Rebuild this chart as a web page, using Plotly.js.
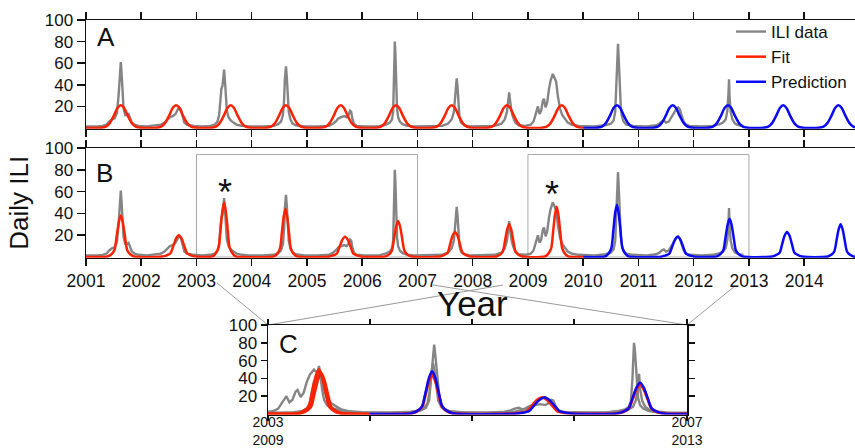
<!DOCTYPE html>
<html><head><meta charset="utf-8">
<script src="https://cdn.plot.ly/plotly-3.0.1.min.js"></script>
<style>html,body{margin:0;padding:0;background:#fff}#chart{width:855px;height:448px}</style>
</head><body><div id="chart"></div>
<script>
// ---------- DATA ----------
// Observed daily ILI (years, value)
const iliT = [2001.00,2001.10,2001.20,2001.30,2001.37,2001.42,2001.47,2001.52,2001.56,2001.59,2001.61,2001.63,2001.645,2001.66,2001.68,2001.71,2001.74,2001.77,2001.80,2001.83,2001.88,2001.95,
2002.10,2002.25,2002.35,2002.42,2002.47,2002.52,2002.57,2002.62,2002.66,2002.69,2002.72,2002.75,2002.78,2002.83,2002.95,
2003.10,2003.25,2003.33,2003.38,2003.41,2003.43,2003.45,2003.47,2003.49,2003.50,2003.515,2003.53,2003.55,2003.58,2003.62,2003.67,2003.73,2003.82,2003.95,
2004.20,2004.40,2004.48,2004.53,2004.565,2004.585,2004.60,2004.62,2004.635,2004.65,2004.67,2004.70,2004.74,2004.80,2004.95,
2005.20,2005.40,2005.47,2005.52,2005.57,2005.62,2005.67,2005.72,2005.75,2005.78,2005.80,2005.82,2005.85,2005.90,
2006.05,2006.30,2006.42,2006.50,2006.54,2006.56,2006.575,2006.59,2006.60,2006.615,2006.63,2006.65,2006.68,2006.73,2006.82,2006.95,
2007.20,2007.45,2007.55,2007.62,2007.66,2007.69,2007.71,2007.725,2007.74,2007.76,2007.79,2007.85,2007.95,
2008.20,2008.40,2008.52,2008.58,2008.62,2008.645,2008.66,2008.675,2008.70,2008.73,2008.77,2008.83,2008.95,
2009.05,2009.10,2009.13,2009.16,2009.18,2009.21,2009.24,2009.27,2009.29,2009.32,2009.35,2009.38,2009.41,2009.45,2009.48,2009.51,2009.54,2009.58,2009.62,2009.67,2009.72,2009.80,2009.92,
2010.20,2010.40,2010.50,2010.55,2010.58,2010.60,2010.62,2010.63,2010.645,2010.66,2010.68,2010.70,2010.73,2010.78,2010.90,
2011.15,2011.32,2011.38,2011.42,2011.46,2011.50,2011.55,2011.60,2011.65,2011.69,2011.72,2011.75,2011.78,2011.81,2011.85,2011.92,
2012.15,2012.35,2012.47,2012.53,2012.58,2012.61,2012.63,2012.64,2012.65,2012.67,2012.70,2012.75,2012.82,2012.90];
const iliV = [1.5,1.2,1.5,2,3,6,8,9,14,30,48,61,50,32,18,12,12,13,9,5,3,2,
1.5,2,3,5,8,10,11,13,17,19,17,10,5,3,2,
1.5,2,3,6,12,25,36,39,50,54,44,28,16,10,7,5,3,2,1.5,
1.5,2,3.5,6,12,25,45,57,47,30,15,8,4,2.5,1.5,
1.5,2,4,6,9,10,11,10,12,16,15,9,4,2,
1.5,1.5,3,5,8,15,40,80,70,40,18,10,6,3.5,2,1.5,
1.5,2,4,8,15,35,46,38,20,10,5,2.5,1.5,
1.5,2,4,8,15,27,33,26,16,10,5,2.5,2,
3,6,11,17,20,13,16,25,27,19,24,36,44,50,47,43,30,18,12,8,5,3,2,
1.5,2.5,4,7,15,40,70,78,62,40,20,11,6,3,2,
1.5,2.5,4,6,7,5,6,10,15,18,19,17,12,7,3.5,2,
1.5,2,3.5,5,8,16,32,45,28,15,8,4,2.5,2];

// Model A: fit (2001-2010) and prediction (2010-2015)
const fitAT = [2001.00,
2001.15,2001.27,2001.36,2001.43,2001.50,2001.57,2001.63,2001.69,2001.76,2001.83,2001.90,2001.99,2002.11,
2002.15,2002.27,2002.36,2002.43,2002.50,2002.57,2002.63,2002.69,2002.76,2002.83,2002.90,2002.99,2003.11,
2003.14,2003.26,2003.35,2003.42,2003.49,2003.56,2003.62,2003.68,2003.75,2003.82,2003.89,2003.98,2004.10,
2004.14,2004.26,2004.35,2004.42,2004.49,2004.56,2004.62,2004.68,2004.75,2004.82,2004.89,2004.98,2005.10,
2005.13,2005.25,2005.34,2005.41,2005.48,2005.55,2005.61,2005.67,2005.74,2005.81,2005.88,2005.97,2006.09,
2006.13,2006.25,2006.34,2006.41,2006.48,2006.55,2006.61,2006.67,2006.74,2006.81,2006.88,2006.97,2007.09,
2007.14,2007.26,2007.35,2007.42,2007.49,2007.56,2007.62,2007.68,2007.75,2007.82,2007.89,2007.98,2008.10,
2008.14,2008.26,2008.35,2008.42,2008.49,2008.56,2008.62,2008.68,2008.75,2008.82,2008.89,2008.98,2009.10,
2009.13,2009.25,2009.34,2009.41,2009.48,2009.55,2009.61,2009.67,2009.74,2009.81,2009.88,2009.97,2010.00];
const fitAV = [0,
0,0.2,1.3,4.5,11,18.5,21,18.5,11,4.5,1.3,0.2,0,
0,0.2,1.3,4.5,11,18.5,21,18.5,11,4.5,1.3,0.2,0,
0,0.2,1.3,4.5,11,18.5,21,18.5,11,4.5,1.3,0.2,0,
0,0.2,1.3,4.5,11,18.5,21,18.5,11,4.5,1.3,0.2,0,
0,0.2,1.3,4.5,11,18.5,21,18.5,11,4.5,1.3,0.2,0,
0,0.2,1.3,4.5,11,18.5,21,18.5,11,4.5,1.3,0.2,0,
0,0.2,1.3,4.5,11,18.5,21,18.5,11,4.5,1.3,0.2,0,
0,0.2,1.3,4.5,11,18.5,21,18.5,11,4.5,1.3,0.2,0,
0,0.2,1.3,4.5,11,18.5,21,18.5,11,4.5,1.3,0.2,0];
const predAT = [2010.00,
2010.13,2010.25,2010.34,2010.41,2010.48,2010.55,2010.61,2010.67,2010.74,2010.81,2010.88,2010.97,2011.09,
2011.14,2011.26,2011.35,2011.42,2011.49,2011.56,2011.62,2011.68,2011.75,2011.82,2011.89,2011.98,2012.10,
2012.14,2012.26,2012.35,2012.42,2012.49,2012.56,2012.62,2012.68,2012.75,2012.82,2012.89,2012.98,2013.10,
2013.14,2013.26,2013.35,2013.42,2013.49,2013.56,2013.62,2013.68,2013.75,2013.82,2013.89,2013.98,2014.10,
2014.14,2014.26,2014.35,2014.42,2014.49,2014.56,2014.62,2014.68,2014.75,2014.82,2014.89,2014.98,2015.10];
const predAV = [0,
0,0.2,1.3,4.5,11,18.5,21,18.5,11,4.5,1.3,0.2,0,
0,0.2,1.3,4.5,11,18.5,21,18.5,11,4.5,1.3,0.2,0,
0,0.2,1.3,4.5,11,18.5,21,18.5,11,4.5,1.3,0.2,0,
0,0.2,1.3,4.5,11,18.5,21,18.5,11,4.5,1.3,0.2,0,
0,0.2,1.3,4.5,11,18.5,21,18.5,11,4.5,1.3,0.2,0];

// Model B: fit (2001-2010) and prediction (2010-2015)
const fitBT = [2001.00,
2001.29,2001.40,2001.46,2001.515,2001.555,2001.595,2001.63,2001.665,2001.705,2001.745,2001.80,2001.86,2001.97,
2002.26,2002.38,2002.45,2002.53,2002.58,2002.63,2002.68,2002.73,2002.78,2002.83,2002.91,2002.98,2003.10,
2003.20,2003.30,2003.35,2003.40,2003.435,2003.47,2003.50,2003.53,2003.565,2003.60,2003.65,2003.70,2003.80,
2004.31,2004.41,2004.46,2004.51,2004.545,2004.58,2004.61,2004.64,2004.675,2004.71,2004.76,2004.81,2004.91,
2005.27,2005.39,2005.46,2005.54,2005.59,2005.64,2005.69,2005.74,2005.79,2005.84,2005.92,2005.99,2006.11,
2006.31,2006.42,2006.48,2006.535,2006.575,2006.615,2006.65,2006.685,2006.725,2006.765,2006.82,2006.88,2006.99,
2007.30,2007.41,2007.47,2007.545,2007.59,2007.635,2007.68,2007.725,2007.77,2007.815,2007.89,2007.95,2008.06,
2008.32,2008.43,2008.49,2008.545,2008.585,2008.625,2008.66,2008.695,2008.735,2008.775,2008.83,2008.89,2009.00,
2009.22,2009.32,2009.37,2009.42,2009.455,2009.49,2009.52,2009.55,2009.585,2009.62,2009.67,2009.72,2009.82,2010.00];
const fitBV = [0,
0,0.7,2.5,6.5,19,32,38,32,19,6.5,2.5,0.7,0,
0,0.4,1.3,3.4,10,17,20,17,10,3.4,1.3,0.4,0,
0,0.9,3.4,8.5,25,42.5,50,42.5,25,8.5,3.4,0.9,0,
0,0.8,2.9,7.5,22,37.4,44,37.4,22,7.5,2.9,0.8,0,
0,0.3,1.2,3.1,9.3,15.7,18.5,15.7,9.3,3.1,1.2,0.3,0,
0,0.6,2.2,5.6,16.5,28,33,28,16.5,5.6,2.2,0.6,0,
0,0.4,1.5,3.9,11.5,19.5,23,19.5,11.5,3.9,1.5,0.4,0,
0,0.5,2,5.1,15,25.5,30,25.5,15,5.1,2,0.5,0,
0,0.8,3.1,7.8,23,39,46,39,23,7.8,3.1,0.8,0,0];
const predBT = [2010.00,
2010.31,2010.41,2010.46,2010.51,2010.545,2010.58,2010.61,2010.64,2010.675,2010.71,2010.76,2010.81,2010.91,
2011.29,2011.41,2011.48,2011.56,2011.61,2011.66,2011.71,2011.76,2011.81,2011.86,2011.94,2012.01,2012.13,
2012.31,2012.42,2012.48,2012.535,2012.575,2012.615,2012.65,2012.685,2012.725,2012.765,2012.82,2012.88,2012.99,
2013.31,2013.42,2013.48,2013.555,2013.60,2013.645,2013.69,2013.735,2013.78,2013.825,2013.90,2013.96,2014.07,
2014.32,2014.43,2014.49,2014.545,2014.585,2014.625,2014.66,2014.695,2014.735,2014.775,2014.83,2014.89,2015.00];
const predBV = [0,
0,0.9,3.2,8.2,24,41,48,41,24,8.2,3.2,0.9,0,
0,0.3,1.2,3.1,9.3,15.7,18.5,15.7,9.3,3.1,1.2,0.3,0,
0,0.6,2.4,6,17.5,29.8,35,29.8,17.5,6,2.4,0.6,0,
0,0.4,1.5,3.9,11.5,19.5,23,19.5,11.5,3.9,1.5,0.4,0,
0,0.5,2,5.1,15,25.5,30,25.5,15,5.1,2,0.5,0];

// Zoom windows shown in panel C
const windowStart = [2003, 2009];
const windowLen = 4;
const yTicks = [20, 40, 60, 80, 100];
const cTickText = ['2003<br>2009', '', '', '', '2007<br>2013'];
const panelLabels = ['A', 'B', 'C'];

// ---------- STYLE ----------
const GRAY = '#858585', RED = '#ff2200', BLUE = '#0a0af5';
const FONT = 'Liberation Sans, Arial, Helvetica, sans-serif';
const W = 855, H = 448;
const px = v => v / W, py = v => 1 - v / H;

function windowed(t, v, start) {
  const x = [], y = [];
  for (let i = 0; i < t.length; i++) {
    if (t[i] >= start - 0.3 && t[i] <= start + windowLen + 0.4) { x.push(t[i] - start); y.push(v[i]); }
  }
  return {x, y};
}

const traces = [];
const grayLine = {color: GRAY, width: 2.4};
const sp = {shape: 'spline', smoothing: 0.8};
// Panel A
traces.push({x: iliT, y: iliV, xaxis: 'x', yaxis: 'y', mode: 'lines', name: 'ILI data', line: grayLine, legendrank: 1});
traces.push({x: fitAT, y: fitAV, xaxis: 'x', yaxis: 'y', mode: 'lines', name: 'Fit', line: Object.assign({color: RED, width: 2.5}, sp), legendrank: 2});
traces.push({x: predAT, y: predAV, xaxis: 'x', yaxis: 'y', mode: 'lines', name: 'Prediction', line: Object.assign({color: BLUE, width: 2.5}, sp), legendrank: 3});
// Panel B
traces.push({x: iliT, y: iliV, xaxis: 'x2', yaxis: 'y2', mode: 'lines', showlegend: false, line: grayLine});
traces.push({x: fitBT, y: fitBV, xaxis: 'x2', yaxis: 'y2', mode: 'lines', showlegend: false, line: Object.assign({color: RED, width: 2.5}, sp)});
traces.push({x: predBT, y: predBV, xaxis: 'x2', yaxis: 'y2', mode: 'lines', showlegend: false, line: Object.assign({color: BLUE, width: 2.5}, sp)});
// Panel C: both windows overlaid
windowStart.forEach(s => {
  const g = windowed(iliT, iliV, s);
  traces.push({x: g.x, y: g.y, xaxis: 'x3', yaxis: 'y3', mode: 'lines', showlegend: false, line: grayLine});
});
{
  const r1 = windowed(fitBT, fitBV, windowStart[0]);
  traces.push({x: r1.x, y: r1.y, xaxis: 'x3', yaxis: 'y3', mode: 'lines', showlegend: false, line: Object.assign({color: RED, width: 3}, sp)});
  const r2 = windowed(fitBT, fitBV, windowStart[1]);
  traces.push({x: r2.x, y: r2.y, xaxis: 'x3', yaxis: 'y3', mode: 'lines', showlegend: false, line: Object.assign({color: RED, width: 3}, sp)});
  const b2 = windowed(predBT, predBV, windowStart[1]);
  traces.push({x: b2.x, y: b2.y, xaxis: 'x3', yaxis: 'y3', mode: 'lines', showlegend: false, line: Object.assign({color: BLUE, width: 2.5}, sp)});
}

const axLine = {showline: true, linecolor: '#111', linewidth: 1.5, ticks: 'outside', tickcolor: '#111', tickwidth: 1.5, showgrid: false, zeroline: false, layer: 'below traces'};
const tf = {family: FONT, size: 17, color: '#111'};

const layout = {
  width: W, height: H, margin: {l: 0, r: 0, t: 0, b: 0},
  paper_bgcolor: '#fff', plot_bgcolor: 'rgba(0,0,0,0)',
  font: {family: FONT, color: '#111'},
  showlegend: true,
  legend: {x: px(731), y: py(14), xanchor: 'left', yanchor: 'top', bgcolor: 'rgba(0,0,0,0)', font: {family: FONT, size: 17, color: '#111'}, tracegroupgap: 0},
  xaxis: Object.assign({}, axLine, {domain: [px(86), 1], range: [2001, 2014.92], anchor: 'y', mirror: 'ticks', ticklen: 7, dtick: 1, tick0: 2001, showticklabels: false}),
  yaxis: Object.assign({}, axLine, {domain: [py(128.65), py(20)], range: [-0.6, 100], anchor: 'x', tickvals: yTicks, ticklen: 8, tickfont: tf}),
  xaxis2: Object.assign({}, axLine, {domain: [px(86), 1], range: [2001, 2014.92], anchor: 'y2', mirror: 'ticks', ticklen: 7, dtick: 1, tick0: 2001, tickfont: {family: FONT, size: 17.5, color: '#111'}}),
  yaxis2: Object.assign({}, axLine, {domain: [py(257.65), py(148)], range: [-0.6, 100], anchor: 'x2', tickvals: yTicks, ticklen: 8, tickfont: tf,
    title: {text: 'Daily ILI', font: {family: FONT, size: 26, color: '#111'}, standoff: 8}}),
  xaxis3: Object.assign({}, axLine, {domain: [px(268), px(687)], range: [0, 4.11], anchor: 'y3', mirror: 'ticks', ticklen: 5, ticklabelstandoff: -11, tickvals: [0, 1, 2, 3, 4.11], ticktext: cTickText, tickfont: {family: FONT, size: 14, color: '#111'}}),
  yaxis3: Object.assign({}, axLine, {domain: [py(414.5), py(325)], range: [-0.6, 100], anchor: 'x3', mirror: 'ticks', tickvals: yTicks, ticklen: 6, tickfont: tf}),
  shapes: [],
  annotations: []
};

// highlight boxes in panel B
windowStart.forEach(s => layout.shapes.push({type: 'rect', xref: 'x2', yref: 'y2', x0: s, x1: s + windowLen, y0: 0, y1: 94, line: {color: '#a8a8a8', width: 1}, layer: 'below'}));
// connector lines from B windows to panel C
[[217, 283, 268, 325], [503, 285, 268, 325], [433, 285, 687, 325], [735, 286, 687, 325]].forEach(c =>
  layout.shapes.push({type: 'line', xref: 'paper', yref: 'paper', x0: px(c[0]), y0: py(c[1]), x1: px(c[2]), y1: py(c[3]), line: {color: '#9a9a9a', width: 1}, layer: 'below'}));

// x-axis title "Year" (placed between panel B and C)
layout.annotations.push({text: 'Year', xref: 'paper', yref: 'paper', x: px(472), y: py(303), xanchor: 'center', yanchor: 'middle', showarrow: false, font: {family: FONT, size: 35, color: '#111'}});
// panel letters
[[95, 36.5], [94, 173], [277, 343.5]].forEach((p, i) => layout.annotations.push({text: panelLabels[i], xref: 'paper', yref: 'paper', x: px(p[0]), y: py(p[1]), xanchor: 'left', yanchor: 'middle', showarrow: false, font: {family: FONT, size: 26, color: '#111'}}));
// asterisks over the two pandemic-era peaks
[[2003.52, 59], [2009.44, 57]].forEach(a => layout.annotations.push({text: '*', xref: 'x2', yref: 'y2', x: a[0], y: a[1], xanchor: 'center', yanchor: 'middle', showarrow: false, font: {family: FONT, size: 36, color: '#111'}}));

Plotly.newPlot('chart', traces, layout, {staticPlot: true, displayModeBar: false});
</script>
</body></html>
